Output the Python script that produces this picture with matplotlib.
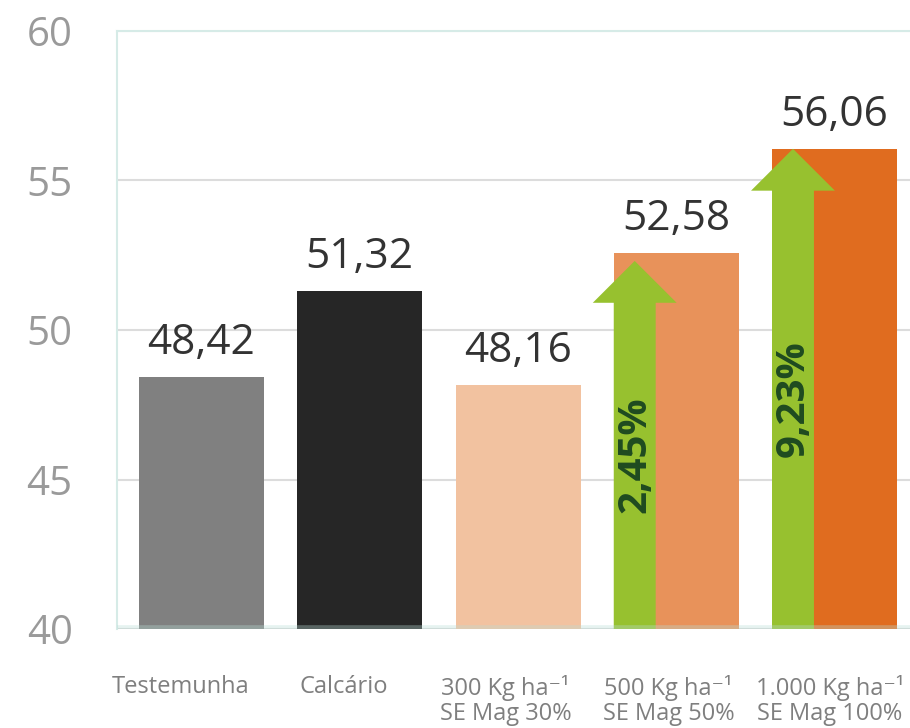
import matplotlib
matplotlib.use("Agg")
import matplotlib.pyplot as plt
from matplotlib.patches import FancyArrow
import numpy as np

# ---- data ----
categories = ["Testemunha", "Calcário",
              "300 Kg ha\u207b\u00b9\nSE Mag 30%",
              "500 Kg ha\u207b\u00b9\nSE Mag 50%",
              "1.000 Kg ha\u207b\u00b9\nSE Mag 100%"]
values = [48.42, 51.32, 48.16, 52.58, 56.06]
value_labels = ["48,42", "51,32", "48,16", "52,58", "56,06"]
arrow_bars = [3, 4]
arrow_tops = [52.31, 56.06]
arrow_labels = ["2,45%", "9,23%"]
arrow_label_y = [45.82, 47.7]
yticks = [40, 45, 50, 55, 60]

# ---- style ----
bar_colors = ["#808080", "#262626", "#f2c2a0", "#e8925a", "#e06c1f"]
green = "#97c12f"
plt.rcParams['font.family'] = ['Open Sans', 'DejaVu Sans']

fig = plt.figure(figsize=(9.1, 7.28), dpi=100)
ax = fig.add_axes([117/910, 1-629/728, 1-117/910, (629-31)/728])

x = np.arange(len(categories))
bw = 0.79
ax.bar(x, values, width=bw, color=bar_colors, zorder=2)
ax.set_xlim(-0.534, 4.477)
ax.set_ylim(40, 60)

# grid
ax.set_yticks(yticks)
ax.yaxis.grid(True, color="#dcdcdc", lw=1.5, zorder=0)
ax.set_axisbelow(True)
for s in ["right", "bottom"]:
    ax.spines[s].set_visible(False)
ax.spines["top"].set_color("#d6ebe7")
ax.spines["top"].set_linewidth(1.5)
ax.spines["left"].set_color("#d6ebe7")
ax.spines["left"].set_linewidth(1.5)
ax.axhline(40, color="#b9ddd6", lw=5.5, alpha=0.35, zorder=5)

ax.tick_params(axis="y", length=0, pad=32, labelsize=29, labelcolor="#9a9a9a")
ax.set_yticklabels([str(t) for t in yticks])

label_shift = [-0.13, -0.10, -0.08, -0.05, -0.03]
ax.set_xticks(x + np.array(label_shift))
ax.set_xticklabels(categories, fontsize=17, color="#7f7f7f", linespacing=1.08)
ax.tick_params(axis="x", length=0, pad=33)

# value labels
for xi, v, lab in zip(x, values, value_labels):
    ax.annotate(lab, (xi, v), xytext=(0, 16.5), textcoords="offset points",
                ha="center", va="baseline", fontsize=30.5, color="#333333")

# arrows
shaft = 0.265
for bi, top, lab, ly in zip(arrow_bars, arrow_tops, arrow_labels, arrow_label_y):
    cx = bi - bw/2 + shaft/2
    hl = 1.40
    arr = FancyArrow(cx, 40, 0, top-40, width=shaft, head_width=0.53,
                     head_length=hl, length_includes_head=True,
                     color=green, lw=0, zorder=3)
    ax.add_patch(arr)
    ax.text(cx, ly, lab, rotation=90, ha="center", va="center",
            fontsize=29, fontweight="bold", color="#1f4b20", zorder=4)

fig.savefig("out.png", dpi=100)
